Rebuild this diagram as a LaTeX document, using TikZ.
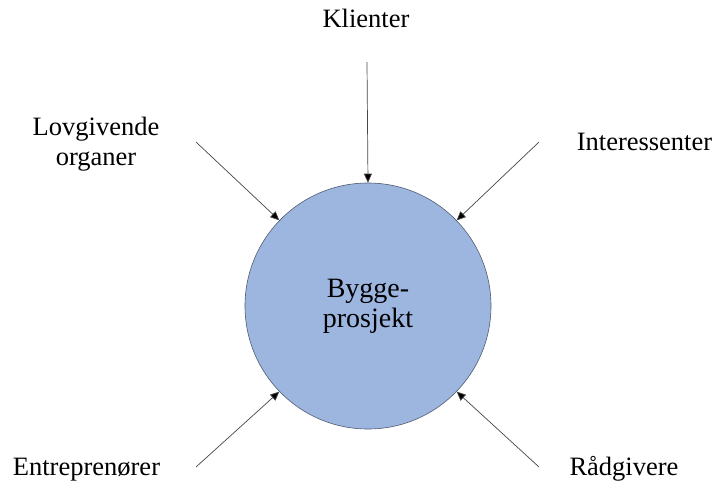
\documentclass[tikz,border=0pt]{standalone}
\usepackage{fontspec}
\setmainfont{Liberation Serif}
\usetikzlibrary{arrows.meta}
\definecolor{projfill}{RGB}{157,182,224}
\definecolor{projedge}{RGB}{80,90,110}
\definecolor{linkgray}{RGB}{70,70,70}
\begin{document}
\begin{tikzpicture}[x=1pt,y=-1pt,
  party/.style={font=\fontsize{26.5}{30}\selectfont, inner sep=0pt, align=center, anchor=base},
  hub/.style={circle, fill=projfill, draw=projedge, line width=0.6pt, minimum size=246pt, inner sep=0pt,
    align=center, font=\fontsize{28}{30}\selectfont},
  link/.style={draw=linkgray, line width=0.7pt, -{Triangle[length=9pt,width=8pt,fill=black]}}]
  \useasboundingbox (0,0) rectangle (716,483);

  % the project in the middle
  \node[hub] (proj) at (368,306) {Bygge-\\prosjekt};

  % the parties around it (base = baseline of the last line)
  \node[party] (klient) at (366,27) {Klienter};
  \node[party] (lov) at (96,165) {Lovgivende\\organer};
  \node[party] (inter) at (644.5,150) {Interessenter};
  \node[party] (entr) at (86.5,475) {Entreprenører};
  \node[party] (rad) at (624,475) {Rådgivere};

  % free tails of the arrows
  \coordinate (sK) at (367,62);
  \coordinate (sL) at (196,142);
  \coordinate (sI) at (539,142);
  \coordinate (sE) at (196,467);
  \coordinate (sR) at (539,467);

  \draw[link] (sK) -- (proj.90);
  \draw[link] (sL) -- (proj.136);
  \draw[link] (sI) -- (proj.44);
  \draw[link] (sE) -- (proj.224);
  \draw[link] (sR) -- (proj.316);
\end{tikzpicture}
\end{document}
